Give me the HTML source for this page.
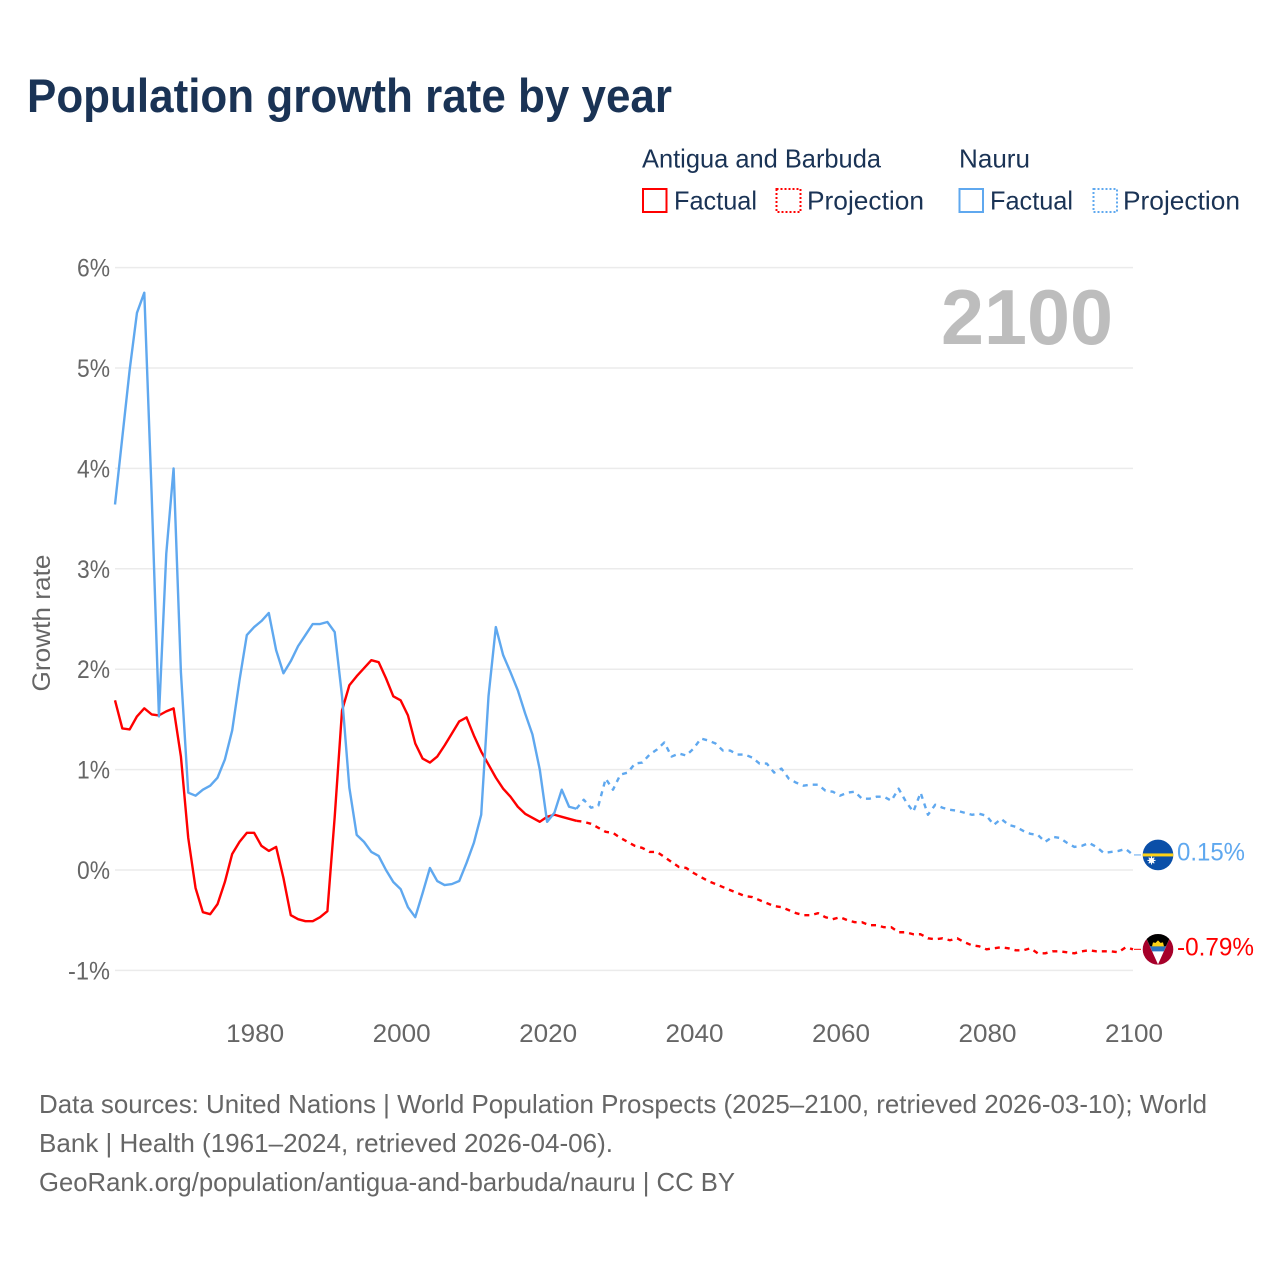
<!DOCTYPE html>
<html lang="en">
<head>
<meta charset="utf-8">
<title>Population growth rate by year</title>
<style>
html,body{margin:0;padding:0;background:#fff;}
svg{display:block;font-family:"Liberation Sans",sans-serif;}
</style>
</head>
<body>
<svg id="chart" xmlns="http://www.w3.org/2000/svg" width="1280" height="1280" viewBox="0 0 1280 1280">
  <rect x="0" y="0" width="1280" height="1280" fill="#ffffff"/>
  <text x="27" y="112" font-size="47" font-weight="700" fill="#1a3355" textLength="645" lengthAdjust="spacingAndGlyphs">Population growth rate by year</text>

  <g font-size="26" fill="#1a3355">
    <text x="642" y="167.5" textLength="239" lengthAdjust="spacingAndGlyphs">Antigua and Barbuda</text>
    <text x="959" y="167.5" textLength="71" lengthAdjust="spacingAndGlyphs">Nauru</text>
    <rect x="643" y="189" width="23.5" height="23" fill="none" stroke="#ff0000" stroke-width="2"/>
    <text x="674" y="209.5" textLength="83" lengthAdjust="spacingAndGlyphs">Factual</text>
    <rect x="776.5" y="189" width="24" height="23" fill="none" stroke="#ff0000" stroke-width="2" stroke-dasharray="2 2"/>
    <text x="807" y="209.5" textLength="117" lengthAdjust="spacingAndGlyphs">Projection</text>
    <rect x="959.5" y="189" width="23.5" height="23" fill="none" stroke="#5fa8ef" stroke-width="2"/>
    <text x="990" y="209.5" textLength="83" lengthAdjust="spacingAndGlyphs">Factual</text>
    <rect x="1093.5" y="189" width="23.5" height="23" fill="none" stroke="#5fa8ef" stroke-width="2" stroke-dasharray="2 2"/>
    <text x="1123" y="209.5" textLength="117" lengthAdjust="spacingAndGlyphs">Projection</text>
  </g>

  <g id="grid"></g>
  <g id="yticks"></g>
  <g id="xticks"></g>

  <text transform="translate(50,623) rotate(-90)" text-anchor="middle" font-size="25" fill="#666666" textLength="137" lengthAdjust="spacingAndGlyphs">Growth rate</text>
  <text x="941" y="344" font-size="78" font-weight="700" fill="#bdbdbd" textLength="172" lengthAdjust="spacingAndGlyphs">2100</text>

  <g id="series"></g>

  <defs>
    <clipPath id="flag-clip"><circle cx="0" cy="0" r="15.3"/></clipPath>
  </defs>
  <g id="flag-antigua" clip-path="url(#flag-clip)">
    <rect x="-16" y="-16" width="32" height="32" fill="#a6002a"/>
    <polygon points="-14,-16 14,-16 0,15" fill="#ffffff"/>
    <polygon points="-14,-16 14,-16 8,-3 -8,-3" fill="#000000"/>
    <polygon points="-8,-3 8,-3 5.8,2 -5.8,2" fill="#2a73c0"/>
    <path d="M-6,-3 L-5,-7 L-2.5,-6.5 L0,-9 L2.5,-6.5 L5,-7 L6,-3 Z" fill="#fcd116"/>
  </g>
  <g id="flag-nauru" clip-path="url(#flag-clip)">
    <rect x="-16" y="-16" width="32" height="32" fill="#0a4fa8"/>
    <rect x="-16" y="-1.5" width="32" height="3" fill="#fcd116"/>
    <circle cx="-6.5" cy="5.5" r="2.6" fill="#ffffff"/>
    <path d="M-6.5,1.5 V9.5 M-10.5,5.5 H-2.5 M-9.3,2.7 L-3.7,8.3 M-3.7,2.7 L-9.3,8.3" stroke="#ffffff" stroke-width="1.1"/>
  </g>

  <g font-size="26" fill="#666666">
    <text x="39" y="1113" textLength="1168" lengthAdjust="spacingAndGlyphs">Data sources: United Nations | World Population Prospects (2025–2100, retrieved 2026-03-10); World</text>
    <text x="39" y="1152" textLength="574" lengthAdjust="spacingAndGlyphs">Bank | Health (1961–2024, retrieved 2026-04-06).</text>
    <text x="39" y="1191" textLength="696" lengthAdjust="spacingAndGlyphs">GeoRank.org/population/antigua-and-barbuda/nauru | CC BY</text>
  </g>
</svg>
<script>
const factualStartYear = 1961;
const projectionStartYear = 2024;
const yTickValues = [-1, 0, 1, 2, 3, 4, 5, 6];
const yTickLabels = ["-1%", "0%", "1%", "2%", "3%", "4%", "5%", "6%"];
const xTickValues = [1980, 2000, 2020, 2040, 2060, 2080, 2100];
const xTickLabels = ["1980", "2000", "2020", "2040", "2060", "2080", "2100"];

const antiguaFactual = [1.69,1.41,1.40,1.53,1.61,1.55,1.54,1.58,1.61,1.13,0.32,-0.18,-0.42,-0.44,-0.34,-0.12,0.16,0.28,0.37,0.37,0.24,0.19,0.23,-0.08,-0.45,-0.49,-0.51,-0.51,-0.47,-0.41,0.53,1.59,1.84,1.93,2.01,2.09,2.07,1.91,1.73,1.69,1.54,1.26,1.11,1.07,1.13,1.24,1.36,1.48,1.52,1.34,1.18,1.05,0.92,0.81,0.73,0.63,0.56,0.52,0.48,0.53,0.55,0.53,0.51,0.49];
const antiguaProjection = [0.49,0.48,0.46,0.42,0.38,0.37,0.32,0.28,0.24,0.22,0.18,0.18,0.13,0.08,0.03,0.02,-0.03,-0.07,-0.11,-0.14,-0.17,-0.20,-0.23,-0.26,-0.27,-0.30,-0.33,-0.36,-0.37,-0.40,-0.43,-0.45,-0.45,-0.43,-0.47,-0.49,-0.47,-0.50,-0.52,-0.52,-0.55,-0.55,-0.57,-0.57,-0.62,-0.62,-0.64,-0.64,-0.68,-0.69,-0.68,-0.70,-0.68,-0.72,-0.75,-0.76,-0.79,-0.78,-0.77,-0.78,-0.80,-0.80,-0.78,-0.83,-0.83,-0.81,-0.81,-0.82,-0.83,-0.81,-0.80,-0.81,-0.81,-0.81,-0.82,-0.77,-0.79];
const nauruFactual = [3.64,4.31,4.98,5.55,5.75,3.75,1.53,3.15,4.00,1.97,0.77,0.74,0.80,0.84,0.92,1.10,1.39,1.89,2.34,2.42,2.48,2.56,2.19,1.96,2.08,2.23,2.34,2.45,2.45,2.47,2.37,1.73,0.82,0.35,0.28,0.18,0.14,0.00,-0.12,-0.19,-0.37,-0.47,-0.23,0.02,-0.11,-0.15,-0.14,-0.11,0.07,0.27,0.55,1.73,2.42,2.14,1.97,1.79,1.56,1.35,1.00,0.48,0.57,0.80,0.63,0.61];
const nauruProjection = [0.61,0.70,0.62,0.64,0.91,0.80,0.95,0.97,1.06,1.07,1.15,1.20,1.27,1.13,1.16,1.14,1.21,1.31,1.29,1.26,1.19,1.19,1.15,1.15,1.12,1.06,1.06,0.97,1.01,0.91,0.87,0.84,0.85,0.85,0.79,0.78,0.74,0.77,0.78,0.71,0.71,0.73,0.73,0.69,0.81,0.68,0.58,0.77,0.55,0.65,0.62,0.60,0.59,0.57,0.55,0.56,0.54,0.45,0.51,0.45,0.43,0.39,0.36,0.35,0.28,0.33,0.32,0.27,0.23,0.24,0.27,0.23,0.17,0.18,0.19,0.21,0.15];
const endLabels = ["-0.79%", "0.15%"];

const NS = 'http://www.w3.org/2000/svg';
const X0 = 115, X1 = 1133, YEAR0 = 1961, YEAR1 = 2100;
const Y_ZERO = 870, Y_UNIT = 100.4;
const LINE_W = 2.4;
function xScale(year){ return X0 + (year - YEAR0) * (X1 - X0) / (YEAR1 - YEAR0); }
function yScale(value){ return Y_ZERO - value * Y_UNIT; }
function lineD(values, startYear){
  return values.map(function(v, i){
    return (i ? 'L' : 'M') + xScale(startYear + i).toFixed(2) + ' ' + yScale(v).toFixed(2);
  }).join(' ');
}
function make(tag, parent, props){
  const el = document.createElementNS(NS, tag);
  for (const k in props) el.setAttribute(k, props[k]);
  parent.appendChild(el);
  return el;
}

const grid = document.getElementById('grid');
const yticks = document.getElementById('yticks');
yTickValues.forEach(function(v, i){
  const y = yScale(v);
  const g = make('line', grid, {x1: X0, x2: X1, y1: y, y2: y, stroke: '#ebebeb', 'stroke-width': 1.5});
  
  
  const t = make('text', yticks, {x: 110, y: y + 9, 'text-anchor': 'end', 'font-size': 25, fill: '#666666',
    textLength: yTickLabels[i].length > 2 ? 42 : 33, lengthAdjust: 'spacingAndGlyphs'});
  
  
  t.textContent = yTickLabels[i];
});

const xticks = document.getElementById('xticks');
xTickValues.forEach(function(v, i){
  const t = make('text', xticks, {x: xScale(v) + 1, y: 1042, 'text-anchor': 'middle', 'font-size': 25, fill: '#666666',
    textLength: 58, lengthAdjust: 'spacingAndGlyphs'});
  
  
  t.textContent = xTickLabels[i];
});

const series = document.getElementById('series');
const RED = '#ff0000', BLUE = '#5fa8ef';

const p1 = make('path', series, {d: lineD(antiguaProjection, projectionStartYear), fill: 'none', stroke: RED, 'stroke-width': LINE_W, 'stroke-dasharray': '5 5', 'stroke-linejoin': 'round'});


const p2 = make('path', series, {d: lineD(antiguaFactual, factualStartYear), fill: 'none', stroke: RED, 'stroke-width': LINE_W, 'stroke-linejoin': 'round'});


const p3 = make('path', series, {d: lineD(nauruProjection, projectionStartYear), fill: 'none', stroke: BLUE, 'stroke-width': LINE_W, 'stroke-dasharray': '5 5', 'stroke-linejoin': 'round'});


const p4 = make('path', series, {d: lineD(nauruFactual, factualStartYear), fill: 'none', stroke: BLUE, 'stroke-width': LINE_W, 'stroke-linejoin': 'round'});



const lastA = antiguaProjection[antiguaProjection.length - 1];
const lastN = nauruProjection[nauruProjection.length - 1];
const FLAG_X = 1158;

const c1 = make('line', series, {x1: X1 + 1, x2: FLAG_X - 17, y1: yScale(lastA), y2: yScale(lastA), stroke: RED, 'stroke-width': 1});


const c2 = make('line', series, {x1: X1 + 1, x2: FLAG_X - 17, y1: yScale(lastN), y2: yScale(lastN), stroke: BLUE, 'stroke-width': 1});



document.getElementById('flag-antigua').setAttribute('transform', 'translate(' + FLAG_X + ',' + yScale(lastA) + ')');
document.getElementById('flag-nauru').setAttribute('transform', 'translate(' + FLAG_X + ',' + yScale(lastN) + ')');

const l1 = make('text', series, {x: 1177, y: yScale(lastA) + 6, 'font-size': 25, fill: RED, textLength: 77, lengthAdjust: 'spacingAndGlyphs'});


l1.textContent = endLabels[0];
const l2 = make('text', series, {x: 1177, y: yScale(lastN) + 5.5, 'font-size': 25, fill: BLUE, textLength: 68, lengthAdjust: 'spacingAndGlyphs'});


l2.textContent = endLabels[1];
</script>
</body>
</html>
